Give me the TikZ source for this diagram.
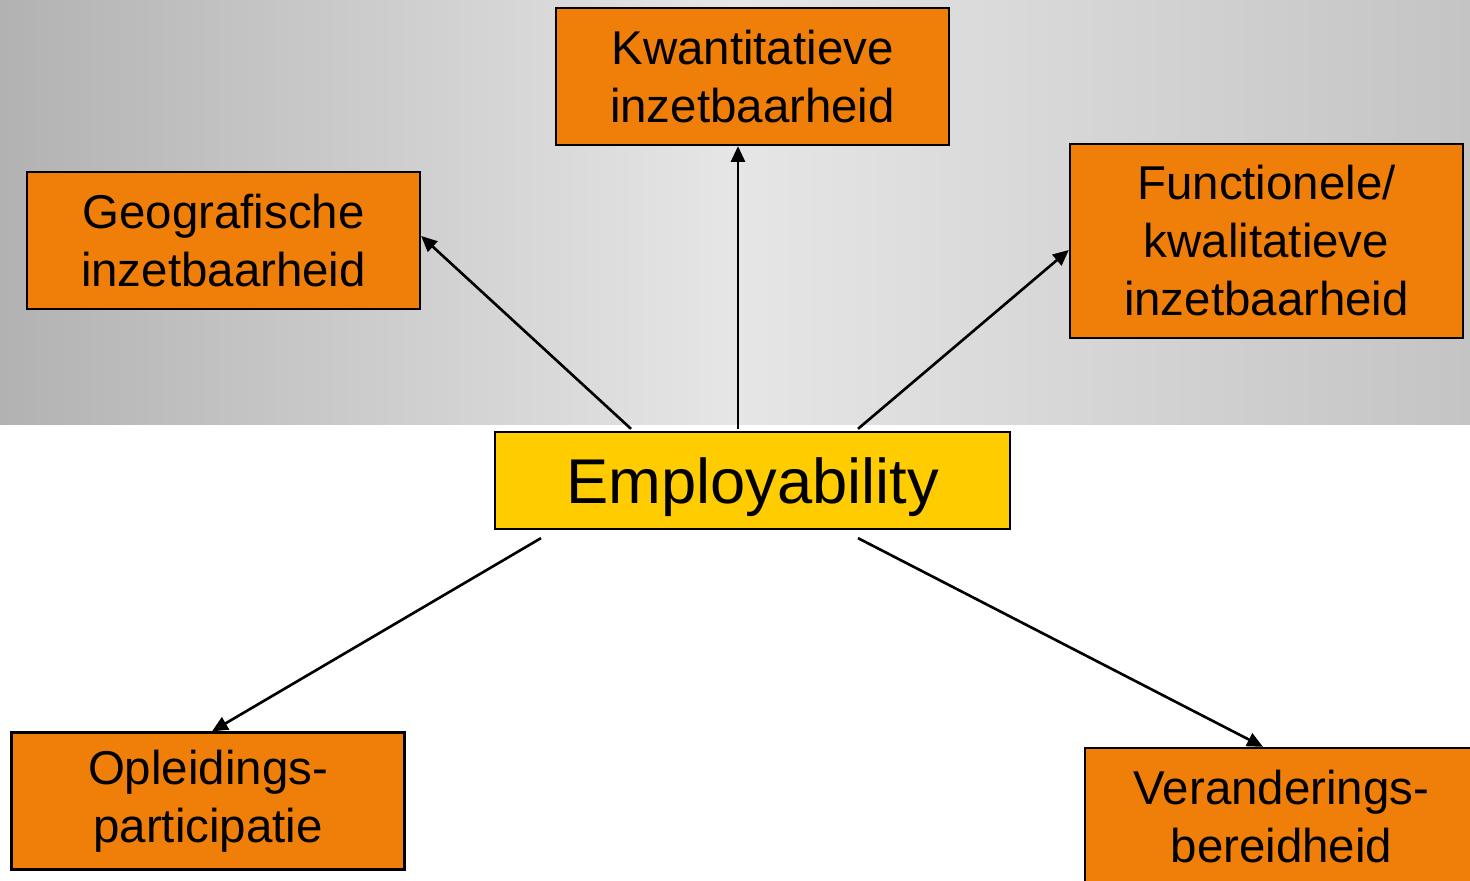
\documentclass[tikz,border=0pt]{standalone}
\usepackage{fontspec}
\setmainfont{Liberation Sans}
\usepackage{xcolor}
\usepackage{tikz}
\usetikzlibrary{arrows.meta,positioning,calc}
\definecolor{empgold}{HTML}{FFCC00}
\definecolor{emporanje}{HTML}{F07F09}
\definecolor{empgreymid}{HTML}{E6E6E6}
\definecolor{empgreyleft}{HTML}{B2B2B2}
\definecolor{empgreyright}{HTML}{C4C4C4}

\begin{document}
\begin{tikzpicture}[
  facet/.style={draw=black, line width=1.3pt, fill=emporanje, inner sep=0pt,
                minimum width=78.6mm, minimum height=27.4mm, align=center,
                font=\fontsize{27}{33}\selectfont},
  core/.style={draw=black, line width=1.3pt, fill=empgold, inner sep=0pt,
               minimum width=103mm, minimum height=19.4mm, text depth=0pt,
               font=\fontsize{36}{40}\selectfont},
  lf/.style={-{Triangle[length=9pt,width=8pt]}, black, line width=1.5pt},
]
\useasboundingbox (0,0) rectangle (29.4,17.62);
% grey upper band
\shade[left color=empgreyleft, right color=empgreyright, middle color=empgreymid]
   (0,9.12) rectangle (29.4,17.62);

\node[core] (emp) at (15.05,8.01) {Employability};
\node[facet] (kwant) at (15.05,16.09) {Kwantitatieve\\inzetbaarheid};
\node[facet] (geo) at (4.47,12.81) {Geografische\\inzetbaarheid};
\node[facet, minimum height=38.8mm] (func) at (25.33,12.80)
   {Functionele/\\kwalitatieve\\inzetbaarheid};
\node[facet] (opl) at (4.16,1.60) {Opleidings-\\participatie};
\node[facet] (ver) at (25.63,1.29) {Veranderings-\\bereidheid};

\coordinate (s1) at ([xshift=-24.3mm,yshift=0.4mm]emp.north);
\coordinate (s2) at ([xshift=-2.9mm,yshift=0.4mm]emp.north);
\coordinate (s3) at ([xshift=21.1mm,yshift=0.4mm]emp.north);
\coordinate (s4) at ([xshift=-42.3mm,yshift=-1.6mm]emp.south);
\coordinate (s5) at ([xshift=21.1mm,yshift=-1.6mm]emp.south);

\draw[lf] (s1) -- ([yshift=0.9mm]geo.east);
\draw[lf] (s2) -- ([xshift=-2.9mm]kwant.south);
\draw[lf] (s3) -- ([yshift=-1.8mm]func.west);
\draw[lf] (s4) -- ([xshift=0.8mm]opl.north);
\draw[lf] (s5) -- ([xshift=-3.7mm]ver.north);
\end{tikzpicture}
\end{document}
